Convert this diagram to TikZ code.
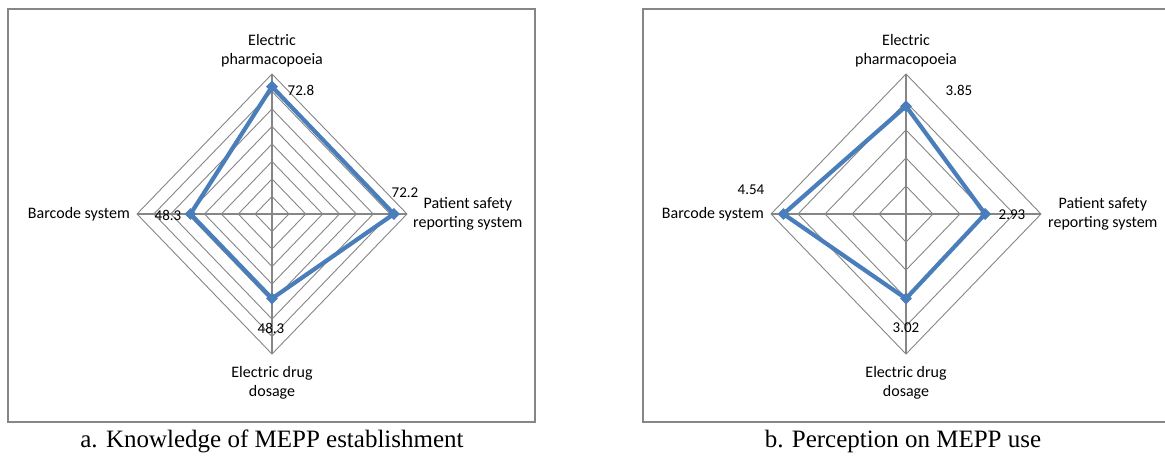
\documentclass[tikz,border=0pt]{standalone}
\usepackage{fontspec}
\setmainfont{Liberation Serif}
\newfontfamily\chartfont{Carlito}
\usetikzlibrary{positioning,shapes.geometric}
\definecolor{gridgray}{RGB}{134,134,134}
\definecolor{seriesblue}{RGB}{74,126,187}

\begin{document}
\begin{tikzpicture}[x=1pt, y=-1pt, node distance=6pt,
    panelframe/.style={draw=gridgray, line width=1.5pt},
    gridring/.style={draw=gridgray, line width=0.9pt},
    spoke/.style={draw=gridgray, line width=1.8pt},
    series/.style={draw=seriesblue, line width=4.2pt, line join=round},
    marker/.style={diamond, fill=seriesblue, inner sep=0pt, minimum size=12pt},
    axislabel/.style={font=\chartfont\fontsize{16}{19}\selectfont, align=center, inner sep=1pt},
    datalabel/.style={font=\chartfont\fontsize{15}{18}\selectfont, inner sep=0pt},
    caption/.style={font=\fontsize{25}{30}\selectfont, inner sep=0pt}]
    \useasboundingbox (0,0) rectangle (1165,463);

    % Panel a (Left Side): 8 rings, 0 to 80
    \draw[panelframe] (8,9) rectangle (535,422);
    \begin{scope}[shift={(272,214)}]
        \coordinate (aN) at (0,-140);
        \coordinate (aE) at (135,0);
        \coordinate (aS) at (0,140);
        \coordinate (aW) at (-135,0);
        \foreach \k in {1,...,8}
            \draw[gridring] (0,-140*\k/8) -- (135*\k/8,0) -- (0,140*\k/8) -- (-135*\k/8,0) -- cycle;
        \draw[spoke] (aN) -- (aS);
        \draw[spoke] (aW) -- (aE);

        \node[marker] (aEP) at (0,{-140*72.8/80}) {};
        \node[marker] (aPS) at ({135*72.2/80},0) {};
        \node[marker] (aED) at (0,{140*48.3/80}) {};
        \node[marker] (aBS) at ({-135*48.3/80},0) {};
        \draw[series] (aEP.center) -- (aPS.center) -- (aED.center) -- (aBS.center) -- cycle;

        \node[axislabel, above=of aN] (aNlbl) {Electric\\pharmacopoeia};
        \node[axislabel, right=5pt of aE] (aElbl) {Patient safety\\reporting system};
        \node[axislabel, below=11pt of aS] (aSlbl) {Electric drug\\dosage};
        \node[axislabel, left=of aW] (aWlbl) {Barcode system};

        \node[datalabel] (aEPval) at (29,-124) {72.8};
        \node[datalabel] (aPSval) at (133,-21) {72.2};
        \node[datalabel] (aEDval) at (-1,114) {48.3};
        \node[datalabel] (aBSval) at (-104,1) {48.3};
    \end{scope}
    \node[caption] (capA) at (272,441) {a. Knowledge of MEPP establishment};

    % Panel b (Right Side): 5 rings, 0 to 5
    \draw[panelframe] (643,9) rectangle (1172,422);
    \begin{scope}[shift={(906,214)}]
        \coordinate (bN) at (0,-140);
        \coordinate (bE) at (135,0);
        \coordinate (bS) at (0,140);
        \coordinate (bW) at (-135,0);
        \foreach \k in {1,...,5}
            \draw[gridring] (0,-140*\k/5) -- (135*\k/5,0) -- (0,140*\k/5) -- (-135*\k/5,0) -- cycle;
        \draw[spoke] (bN) -- (bS);
        \draw[spoke] (bW) -- (bE);

        \node[marker] (bEP) at (0,{-140*3.85/5}) {};
        \node[marker] (bPS) at ({135*2.93/5},0) {};
        \node[marker] (bED) at (0,{140*3.02/5}) {};
        \node[marker] (bBS) at ({-135*4.54/5},0) {};
        \draw[series] (bEP.center) -- (bPS.center) -- (bED.center) -- (bBS.center) -- cycle;

        \node[axislabel, above=of bN] (bNlbl) {Electric\\pharmacopoeia};
        \node[axislabel, right=of bE] (bElbl) {Patient safety\\reporting system};
        \node[axislabel, below=11pt of bS] (bSlbl) {Electric drug\\dosage};
        \node[axislabel, left=of bW] (bWlbl) {Barcode system};

        \node[datalabel] (bEPval) at (53,-124) {3.85};
        \node[datalabel] (bPSval) at (106,1) {2.93};
        \node[datalabel] (bEDval) at (0,114) {3.02};
        \node[datalabel] (bBSval) at (-155,-24) {4.54};
    \end{scope}
    \node[caption] (capB) at (903,441) {b. Perception on MEPP use};
\end{tikzpicture}
\end{document}
